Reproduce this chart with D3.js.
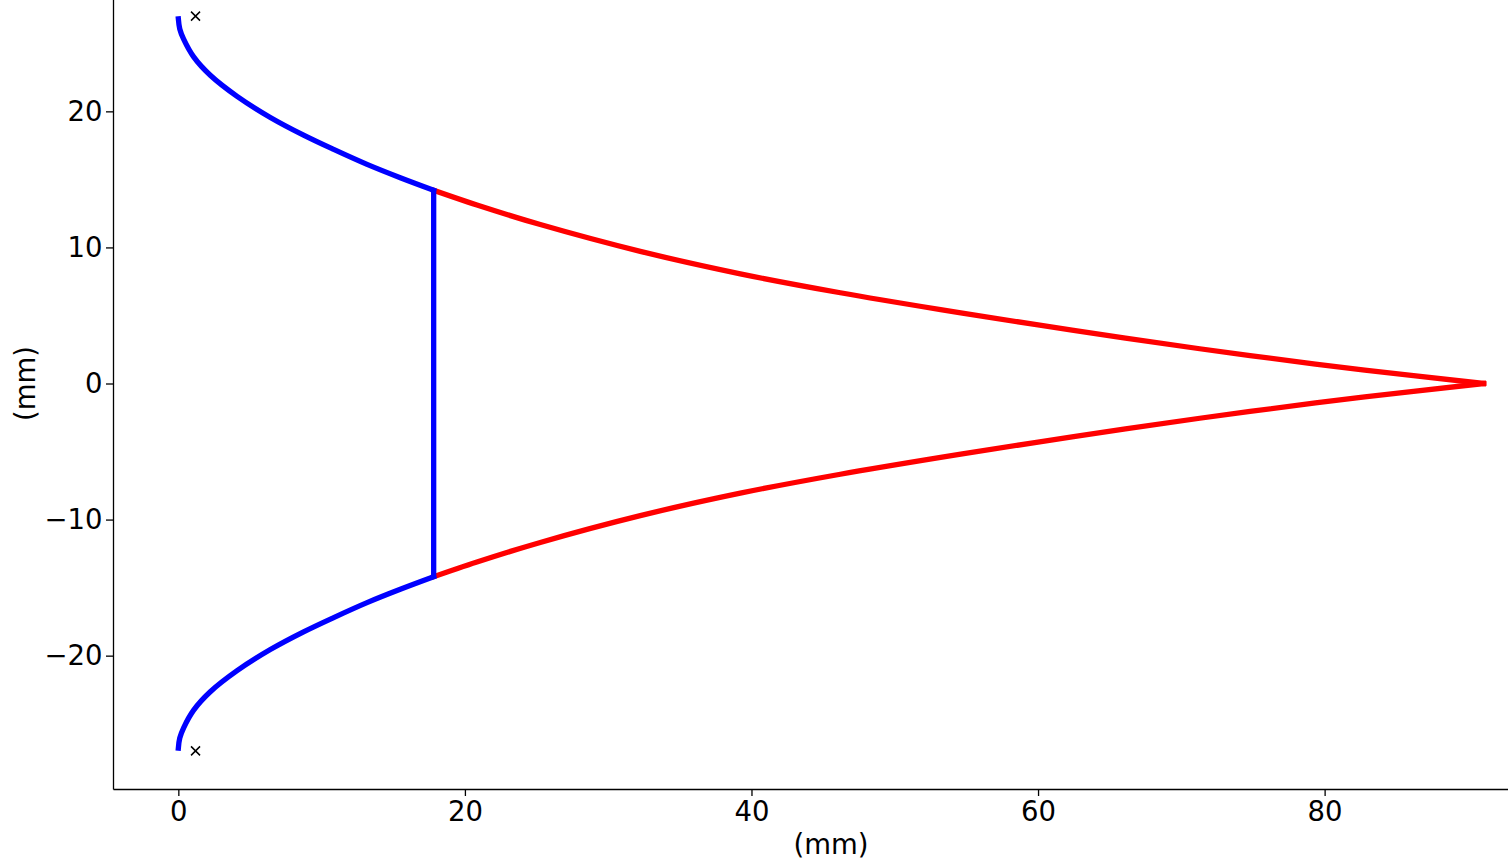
<!DOCTYPE html>
<html>
<head>
<meta charset="utf-8">
<script src="https://cdn.jsdelivr.net/npm/d3@7"></script>
<style>
html, body { margin: 0; padding: 0; background: #fff; overflow: hidden; }
svg { display: block; font-family: "DejaVu Sans", sans-serif; }
</style>
</head>
<body>
<svg id="chart" width="1508" height="866"></svg>
<script>
// Upper profile, blue section (x mm, y mm); lower section is its mirror
const blueX = [0, 0.1, 0.37, 1.07, 2.23, 4.1, 6.42, 8.74, 10.84, 13.17, 15.49, 17.82];
const blueY = [26.8, 26.05, 25.3, 24.0, 22.65, 21.1, 19.55, 18.25, 17.2, 16.1, 15.12, 14.2];
// Upper profile, red section
const redX = [17.82, 20.84, 25.26, 32.24, 39.22, 46.2, 53.2, 60.0, 66.1, 74.8, 82.8, 91.1];
const redY = [14.2, 13.12, 11.68, 9.71, 8.06, 6.67, 5.43, 4.3, 3.33, 2.05, 0.99, 0];
// Cross markers
const markX = [1.2, 1.2];
const markY = [27.0, -27.0];
// Ticks
const xTicks = [0, 20, 40, 60, 80];
const yTicks = [-20, -10, 0, 10, 20];
const xLabel = "(mm)";
const yLabel = "(mm)";

(function () {
const svg = d3.select("#chart");
const pL = 113, pR = 1549, pT = -22, pB = 789;
const x = d3.scaleLinear().domain([-4.56, 95.66]).range([pL, pR]);
const y = d3.scaleLinear().domain([-29.8, 29.8]).range([pB, pT]);
const fs = 27.5;

const fmt = d => (d < 0 ? "\u2212" + Math.abs(d) : String(d));

// Axes
const xAxis = svg.append("g").attr("transform", `translate(0,${pB})`)
  .call(d3.axisBottom(x).tickValues(xTicks).tickFormat(fmt).tickSize(7).tickSizeOuter(0).tickPadding(5));
const yAxis = svg.append("g").attr("transform", `translate(${pL},0)`)
  .call(d3.axisLeft(y).tickValues(yTicks).tickFormat(fmt).tickSize(7).tickSizeOuter(0).tickPadding(3.5));
[xAxis, yAxis].forEach(g => {
  g.selectAll("path.domain").attr("stroke", "#000").attr("stroke-width", 1.3);
  g.selectAll(".tick line").attr("stroke", "#000").attr("stroke-width", 1.3);
  g.selectAll(".tick text").attr("font-size", fs).attr("fill", "#000")
    .attr("font-family", "DejaVu Sans");
});

svg.append("text").attr("x", (pL + pR) / 2).attr("y", 854)
  .attr("text-anchor", "middle").attr("font-size", fs).text(xLabel);
svg.append("text").attr("transform", `translate(35,${y(0)}) rotate(-90)`)
  .attr("text-anchor", "middle").attr("font-size", fs).text(yLabel);

// Curves
const lineC = d3.line().x(d => x(d[0])).y(d => y(d[1])).curve(d3.curveCatmullRom.alpha(0.5));
const blueTop = blueX.map((v, i) => [v, blueY[i]]);
const blueBot = blueX.map((v, i) => [v, -blueY[i]]);
const redTop = redX.map((v, i) => [v, redY[i]]);
const redBot = redX.map((v, i) => [v, -redY[i]]);
const n = blueX.length - 1;

const g = svg.append("g").attr("fill", "none").attr("stroke-width", 5.3)
  .attr("stroke-linecap", "square").attr("stroke-linejoin", "round");
g.append("path").attr("d", lineC(redTop)).attr("stroke", "#ff0000");
g.append("path").attr("d", lineC(redBot)).attr("stroke", "#ff0000");
g.append("path").attr("d", lineC(blueTop)).attr("stroke", "#0000ff");
g.append("path").attr("d", lineC(blueBot)).attr("stroke", "#0000ff");
g.append("path").attr("d", d3.line().x(d => x(d[0])).y(d => y(d[1]))([[blueX[n], blueY[n]], [blueX[n], -blueY[n]]]))
  .attr("stroke", "#0000ff").attr("stroke-linecap", "butt");

// Markers
const ms = 4.5;
svg.append("g").selectAll("path").data(markX.map((v, i) => [v, markY[i]])).join("path")
  .attr("d", d => {
    const cx = x(d[0]), cy = y(d[1]);
    return `M${cx - ms},${cy - ms}L${cx + ms},${cy + ms}M${cx - ms},${cy + ms}L${cx + ms},${cy - ms}`;
  })
  .attr("stroke", "#000").attr("stroke-width", 1.5).attr("fill", "none");
})();
</script>
</body>
</html>
